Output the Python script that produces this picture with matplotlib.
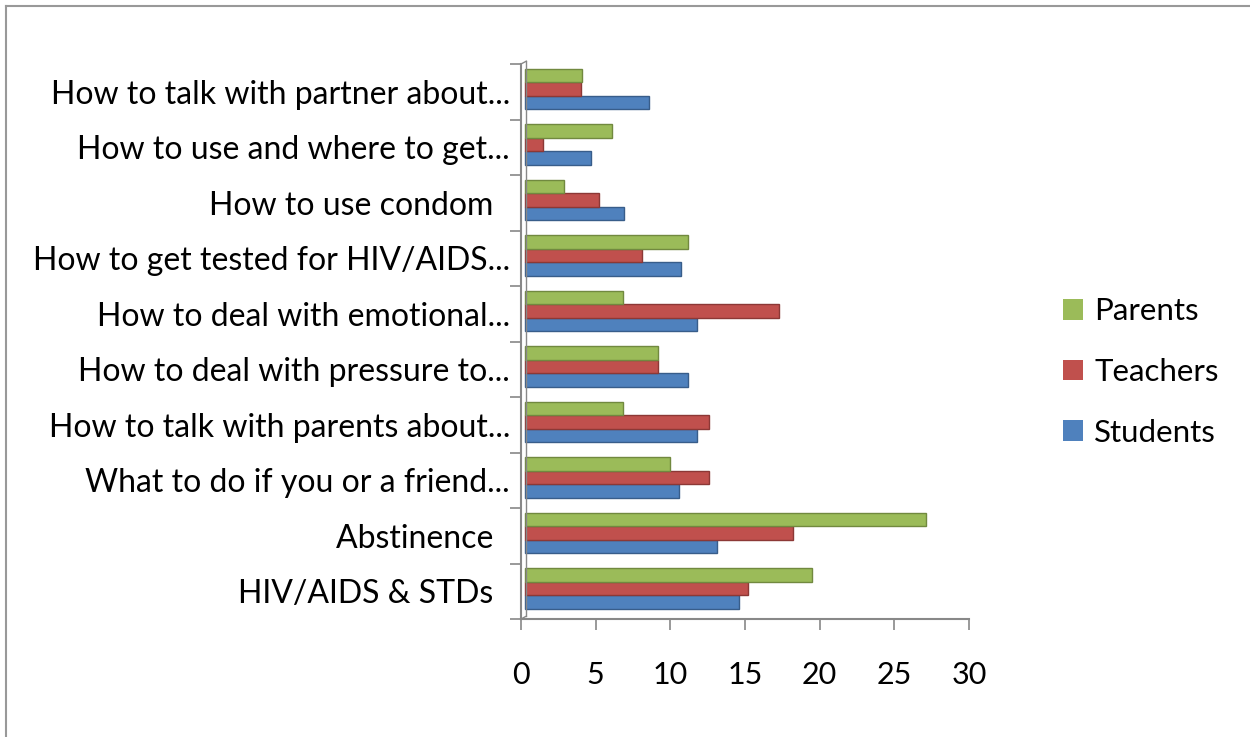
import matplotlib
matplotlib.use("Agg")
import matplotlib.pyplot as plt
import numpy as np
from matplotlib.lines import Line2D
from matplotlib.patches import Patch

categories = [
    "HIV/AIDS & STDs  ",
    "Abstinence  ",
    "What to do if you or a friend...",
    "How to talk with parents about...",
    "How to deal with pressure to...",
    "How to deal with emotional...",
    "How to get tested for HIV/AIDS...",
    "How to use condom  ",
    "How to use and where to get...",
    "How to talk with partner about...",
]
students = [14.3, 12.8, 10.3, 11.5, 10.9, 11.5, 10.4, 6.6, 4.4, 8.3]
teachers = [14.9, 17.9, 12.3, 12.3, 8.9, 17.0, 7.8, 4.9, 1.2, 3.7]
parents = [19.2, 26.8, 9.7, 6.5, 8.9, 6.5, 10.9, 2.6, 5.8, 3.8]
xticks = [0, 5, 10, 15, 20, 25, 30]

c_green = "#9BBB59"
c_red = "#C0504D"
c_blue = "#4F81BD"
e_green = "#71893F"
e_red = "#8C3836"
e_blue = "#385D8A"

plt.rcParams['font.family'] = ['Lato', 'DejaVu Sans']

fig = plt.figure(figsize=(12.5, 7.37), dpi=100)
ax = fig.add_axes([521/1250, 1-619/737, (969-521)/1250, (619-64)/737])

y = np.arange(len(categories))
h = 0.245
shift = 0.05  # 3D depth offset (upwards)
ax.barh(y + shift - h, students, height=h, left=0.3, color=c_blue, edgecolor=e_blue, linewidth=1.0, label="Students")
ax.barh(y + shift, teachers, height=h, left=0.3, color=c_red, edgecolor=e_red, linewidth=1.0, label="Teachers")
ax.barh(y + shift + h, parents, height=h, left=0.3, color=c_green, edgecolor=e_green, linewidth=1.0, label="Parents")

ax.set_ylim(-0.5, len(categories) - 0.5)
ax.set_xlim(0, 30)
ax.set_yticks(np.arange(len(categories) + 1) - 0.5)
ax.set_yticklabels([])
ax.set_yticks(y, minor=True)
ax.set_yticklabels(categories, minor=True, fontsize=23, color="black")
ax.tick_params(axis='y', which='minor', length=0, pad=8)
ax.tick_params(axis='y', which='major', length=8, color="#888888", width=1.2)
ax.set_xticks(xticks)
ax.set_xticklabels([str(v) for v in xticks], fontsize=22, color="black")
ax.tick_params(axis='x', length=8, color="#888888", width=1.2, pad=22)
for s in ['top', 'right']:
    ax.spines[s].set_visible(False)
for s in ['left', 'bottom']:
    ax.spines[s].set_color("#888888")
    ax.spines[s].set_linewidth(1.5)

# 3D back wall edge
ax.plot([0.35, 0.35], [-0.45, 9.55], color="#888888", lw=1.0, clip_on=False)
ax.plot([0, 0.35], [-0.5, -0.45], color="#888888", lw=1.0, clip_on=False)
ax.plot([0, 0.35], [9.5, 9.55], color="#888888", lw=1.0, clip_on=False)

handles = [Patch(facecolor=c_green, edgecolor='none', label="Parents"),
           Patch(facecolor=c_red, edgecolor='none', label="Teachers"),
           Patch(facecolor=c_blue, edgecolor='none', label="Students")]
leg = fig.legend(handles=handles, loc='center left', bbox_to_anchor=(1035/1250, 1-372/737),
                 frameon=False, fontsize=22.5, handlelength=0.65, handleheight=0.65,
                 handletextpad=0.35, labelspacing=1.05)
for t in leg.get_texts():
    t.set_color("black")

# chart border (top and left visible)
fig.add_artist(Line2D([6/1250, 6/1250], [0, 1-6/737], color="#999999", lw=1.5))
fig.add_artist(Line2D([6/1250, 1], [1-6/737, 1-6/737], color="#999999", lw=1.5))

fig.savefig("out.png", dpi=100)
